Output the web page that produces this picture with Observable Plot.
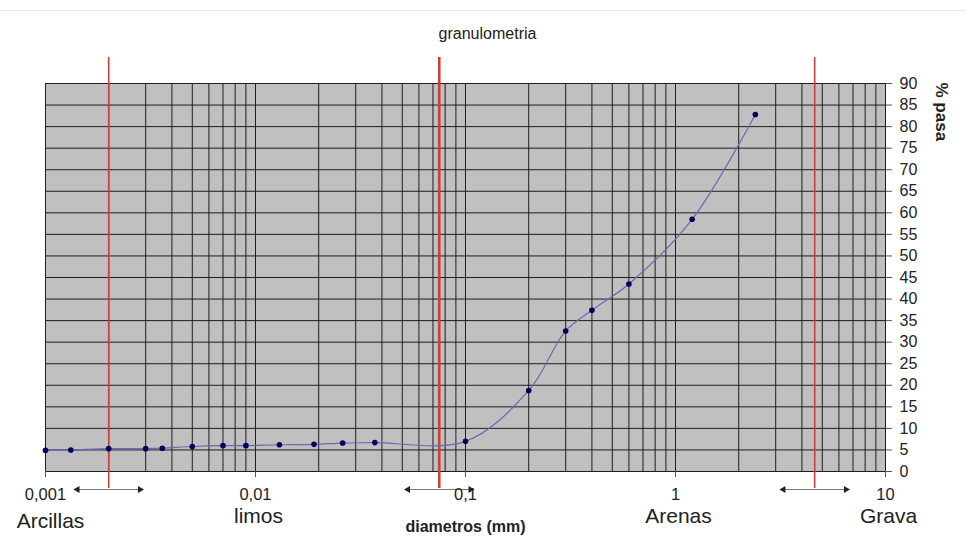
<!DOCTYPE html>
<html><head><meta charset="utf-8">
<script src="https://cdn.jsdelivr.net/npm/d3@7"></script>
<script src="https://cdn.jsdelivr.net/npm/@observablehq/plot@0.6"></script>
<style>
body{margin:0;background:#fff;}
#wrap{position:relative;width:966px;height:537px;overflow:hidden;}
#topline{position:absolute;left:0;top:10px;width:966px;height:1px;background:#e8e8e8;}
#wrap svg{position:absolute;left:0;top:0;}
</style></head><body>
<div id="wrap"><div id="topline"></div></div>
<script>
// ---- data ----
const diametros = [0.001, 0.00132, 0.002, 0.003, 0.0036, 0.005, 0.007, 0.009, 0.013, 0.019, 0.026, 0.037, 0.1, 0.2, 0.3, 0.4, 0.6, 1.2, 2.4];
const pasa      = [4.9,   5.0,     5.3,   5.3,   5.4,    5.8,   6.0,   6.0,   6.2,   6.3,   6.6,   6.7,   7.0, 18.8, 32.6, 37.4, 43.5, 58.5, 82.8];
const xTickValues = [0.001, 0.01, 0.1, 1, 10];
const xTickLabels = ["0,001", "0,01", "0,1", "1", "10"];
const yTickValues = [0,5,10,15,20,25,30,35,40,45,50,55,60,65,70,75,80,85,90];
const zonas   = ["Arcillas", "limos", "Arenas", "Grava"];
const zonasAt = [0.001, 0.01, 1, 10];
const limites = [0.002, 0.075, 4.6];
const titulo = "granulometria";
const xTitulo = "diametros (mm)";
const yTitulo = "% pasa";

const data = diametros.map((d, i) => ({d, p: pasa[i]}));
const gridX = [];
for (let e = -3; e <= 0; e++) for (let k = 1; k <= 9; k++) gridX.push(+(k * Math.pow(10, e)).toPrecision(3));
gridX.push(10);
const zonasData = zonas.map((z, i) => ({z, x: zonasAt[i]}));
const spread = 1.44;

const font = "'Liberation Sans', Arial, sans-serif";
const red = "#c9403a";

const chart = Plot.plot({
  width: 966, height: 537,
  marginLeft: 45, marginRight: 81, marginTop: 83, marginBottom: 66,
  style: {fontFamily: font, color: "#222", background: "transparent"},
  x: {type: "log", domain: [0.001, 10]},
  y: {domain: [0, 90]},
  marks: [
    Plot.frame({fill: "#c0c0c0"}),
    Plot.ruleX(gridX, {stroke: "#1e1e1e", strokeWidth: 1}),
    Plot.ruleY(yTickValues, {stroke: "#1e1e1e", strokeWidth: 1}),
    Plot.ruleX([limites[0], limites[2]], {stroke: red, strokeWidth: 1.6, insetTop: -26, insetBottom: -17}),
    Plot.ruleX([limites[1]], {stroke: red, strokeWidth: 2.6, insetTop: -26, insetBottom: -17}),
    Plot.link(limites, {x1: d => d / spread, x2: d => d * spread, y1: () => 0, y2: () => 0, dy: 18,
      stroke: "#777", strokeWidth: 1}),
    Plot.dot(limites, {x: d => d / spread, y: () => 0, dy: 18, dx: 2, symbol: "triangle", rotate: -90, r: 2.6, fill: "#222", stroke: "none"}),
    Plot.dot(limites, {x: d => d * spread, y: () => 0, dy: 18, dx: -2, symbol: "triangle", rotate: 90, r: 2.6, fill: "#222", stroke: "none"}),
    Plot.line(data, {x: "d", y: "p", curve: "catmull-rom", stroke: "#6a6ab0", strokeWidth: 1.2}),
    Plot.dot(data, {x: "d", y: "p", symbol: "circle", r: 2.8, fill: "#00005a", stroke: "none"}),
    Plot.axisX(xTickValues, {tickFormat: d => xTickLabels[xTickValues.indexOf(d)], tickSize: 6, tickPadding: 11,
      fontSize: 16.5, stroke: "#555", fill: "#222", label: null}),
    Plot.axisY(yTickValues, {anchor: "right", tickSize: 6, tickPadding: 8, fontSize: 16, stroke: "#555", fill: "#222", label: null}),
    Plot.text(zonasData.filter(d => d.z !== "Arcillas"), {x: "x", text: "z", frameAnchor: "bottom", dy: 45, dx: 3,
      lineAnchor: "middle", fontSize: 21, fill: "#222"}),
    Plot.text(zonasData.filter(d => d.z === "Arcillas"), {x: "x", text: "z", frameAnchor: "bottom", dy: 50, dx: 5,
      lineAnchor: "middle", fontSize: 21, fill: "#222"}),
    Plot.text([xTitulo], {text: d => d, frameAnchor: "bottom", dy: 55, lineAnchor: "middle",
      fontSize: 16, fontWeight: "bold", fill: "#222"}),
    Plot.text([titulo], {text: d => d, frameAnchor: "top", dy: -50, dx: 22, lineAnchor: "middle",
      fontSize: 16, fill: "#222"}),
    Plot.text([yTitulo], {text: d => d, frameAnchor: "top-right", dx: 56, dy: -1, rotate: 90,
      textAnchor: "start", lineAnchor: "middle", fontSize: 17, fontWeight: "bold", fill: "#222"})
  ]
});
document.getElementById("wrap").appendChild(chart);
</script>
</body></html>
